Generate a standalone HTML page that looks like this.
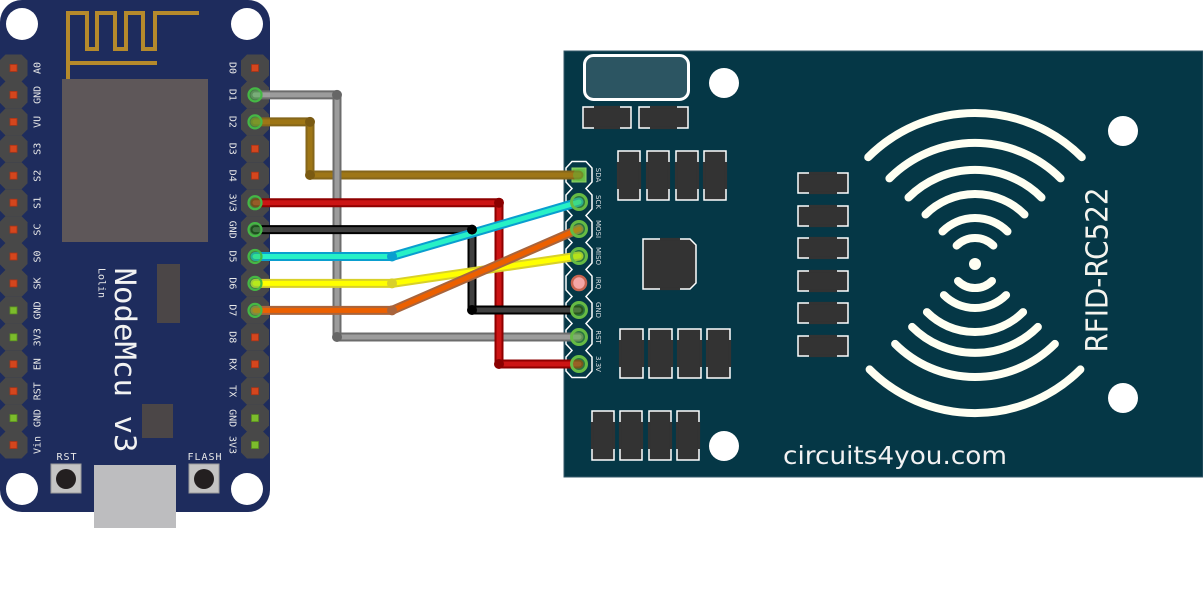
<!DOCTYPE html>
<html><head><meta charset="utf-8"><style>
html,body{margin:0;padding:0;background:#fff;}
svg{display:block;}
.lbl{font-family:"DejaVu Sans Mono","Liberation Mono",monospace;font-size:10px;fill:#e8e8e8;}
.rl{font-family:"DejaVu Sans","Liberation Sans",sans-serif;font-size:7px;fill:#d8dde0;}
</style></head><body>
<svg width="1203" height="597" viewBox="0 0 1203 597" xmlns="http://www.w3.org/2000/svg">
<defs>
<polygon id="oct" points="-8,-13.5 8,-13.5 14,-7.5 14,7.5 8,13.5 -8,13.5 -14,7.5 -14,-7.5" fill="#484848"/>
<rect id="rp" x="-3.5" y="-3.5" width="7" height="7" fill="#d4461d" stroke="#a83418" stroke-width="0.8"/>
<rect id="gp" x="-3.5" y="-3.5" width="7" height="7" fill="#7cbc2c" stroke="#5a9020" stroke-width="0.8"/>
</defs>
<rect width="1203" height="597" fill="#fff"/>

<!-- ===== NodeMCU ===== -->
<rect x="0" y="0" width="270" height="512" rx="22" fill="#1e2c5d"/>
<circle cx="22" cy="24" r="16" fill="#fff"/>
<circle cx="247" cy="24" r="16" fill="#fff"/>
<circle cx="22" cy="489" r="16" fill="#fff"/>
<circle cx="247" cy="489" r="16" fill="#fff"/>
<path d="M68,80 V13 H87 V49 H97 V13 H115 V49 H126 V13 H143 V49 H155 V13 H199" fill="none" stroke="#b58a2c" stroke-width="4"/>
<line x1="68" y1="63" x2="157" y2="63" stroke="#b58a2c" stroke-width="4"/>
<rect x="62" y="79" width="146" height="163" fill="#5e5759"/>
<rect x="157" y="264" width="23" height="59" fill="#4b4647"/>
<rect x="142" y="404" width="31" height="34" fill="#4b4647"/>
<rect x="94" y="465" width="82" height="63" fill="#bdbdbf"/>
<rect x="51" y="464" width="30" height="29" fill="#c4c4c4" stroke="#9a9a9a" stroke-width="1"/>
<circle cx="66" cy="479" r="10" fill="#231f20"/>
<rect x="189" y="464" width="30" height="29" fill="#c4c4c4" stroke="#9a9a9a" stroke-width="1"/>
<circle cx="204" cy="479" r="10" fill="#231f20"/>
<text class="lbl" x="67" y="460" text-anchor="middle" letter-spacing="1">RST</text>
<text class="lbl" x="205" y="460" text-anchor="middle" letter-spacing="1">FLASH</text>
<text x="125" y="360" transform="rotate(90 125 360)" text-anchor="middle" dominant-baseline="central" font-family="DejaVu Sans Mono, Liberation Mono, monospace" font-size="29" fill="#f2f2f2" textLength="185" lengthAdjust="spacingAndGlyphs">NodeMcu v3</text>
<text x="101" y="283" transform="rotate(90 101 283)" text-anchor="middle" dominant-baseline="central" font-family="DejaVu Sans Mono, Liberation Mono, monospace" font-size="10" fill="#e8e8e8">Lolin</text>

<!-- left header -->
<g>
<use href="#oct" x="13.5" y="68"/><use href="#oct" x="13.5" y="94.9"/><use href="#oct" x="13.5" y="121.9"/><use href="#oct" x="13.5" y="148.8"/><use href="#oct" x="13.5" y="175.7"/><use href="#oct" x="13.5" y="202.7"/><use href="#oct" x="13.5" y="229.6"/><use href="#oct" x="13.5" y="256.5"/><use href="#oct" x="13.5" y="283.4"/><use href="#oct" x="13.5" y="310.4"/><use href="#oct" x="13.5" y="337.3"/><use href="#oct" x="13.5" y="364.2"/><use href="#oct" x="13.5" y="391.2"/><use href="#oct" x="13.5" y="418.1"/><use href="#oct" x="13.5" y="445"/>
<use href="#rp" x="13.5" y="68"/><use href="#rp" x="13.5" y="94.9"/><use href="#rp" x="13.5" y="121.9"/><use href="#rp" x="13.5" y="148.8"/><use href="#rp" x="13.5" y="175.7"/><use href="#rp" x="13.5" y="202.7"/><use href="#rp" x="13.5" y="229.6"/><use href="#rp" x="13.5" y="256.5"/><use href="#rp" x="13.5" y="283.4"/><use href="#gp" x="13.5" y="310.4"/><use href="#gp" x="13.5" y="337.3"/><use href="#rp" x="13.5" y="364.2"/><use href="#rp" x="13.5" y="391.2"/><use href="#gp" x="13.5" y="418.1"/><use href="#rp" x="13.5" y="445"/>
</g>
<g class="lbl" text-anchor="middle" dominant-baseline="central">
<text x="38" y="68" transform="rotate(-90 38 68)">A0</text>
<text x="38" y="94.9" transform="rotate(-90 38 94.9)">GND</text>
<text x="38" y="121.9" transform="rotate(-90 38 121.9)">VU</text>
<text x="38" y="148.8" transform="rotate(-90 38 148.8)">S3</text>
<text x="38" y="175.7" transform="rotate(-90 38 175.7)">S2</text>
<text x="38" y="202.7" transform="rotate(-90 38 202.7)">S1</text>
<text x="38" y="229.6" transform="rotate(-90 38 229.6)">SC</text>
<text x="38" y="256.5" transform="rotate(-90 38 256.5)">S0</text>
<text x="38" y="283.4" transform="rotate(-90 38 283.4)">SK</text>
<text x="38" y="310.4" transform="rotate(-90 38 310.4)">GND</text>
<text x="38" y="337.3" transform="rotate(-90 38 337.3)">3V3</text>
<text x="38" y="364.2" transform="rotate(-90 38 364.2)">EN</text>
<text x="38" y="391.2" transform="rotate(-90 38 391.2)">RST</text>
<text x="38" y="418.1" transform="rotate(-90 38 418.1)">GND</text>
<text x="38" y="445" transform="rotate(-90 38 445)">Vin</text>
</g>

<!-- right header -->
<g>
<use href="#oct" x="255" y="68"/><use href="#oct" x="255" y="94.9"/><use href="#oct" x="255" y="121.9"/><use href="#oct" x="255" y="148.8"/><use href="#oct" x="255" y="175.7"/><use href="#oct" x="255" y="202.7"/><use href="#oct" x="255" y="229.6"/><use href="#oct" x="255" y="256.5"/><use href="#oct" x="255" y="283.4"/><use href="#oct" x="255" y="310.4"/><use href="#oct" x="255" y="337.3"/><use href="#oct" x="255" y="364.2"/><use href="#oct" x="255" y="391.2"/><use href="#oct" x="255" y="418.1"/><use href="#oct" x="255" y="445"/>
<use href="#rp" x="255" y="68"/><use href="#rp" x="255" y="148.8"/><use href="#rp" x="255" y="175.7"/><use href="#rp" x="255" y="337.3"/><use href="#rp" x="255" y="364.2"/><use href="#rp" x="255" y="391.2"/><use href="#gp" x="255" y="418.1"/><use href="#gp" x="255" y="445"/>
</g>
<g class="lbl" text-anchor="middle" dominant-baseline="central">
<text x="232" y="68" transform="rotate(90 232 68)">D0</text>
<text x="232" y="94.9" transform="rotate(90 232 94.9)">D1</text>
<text x="232" y="121.9" transform="rotate(90 232 121.9)">D2</text>
<text x="232" y="148.8" transform="rotate(90 232 148.8)">D3</text>
<text x="232" y="175.7" transform="rotate(90 232 175.7)">D4</text>
<text x="232" y="202.7" transform="rotate(90 232 202.7)">3V3</text>
<text x="232" y="229.6" transform="rotate(90 232 229.6)">GND</text>
<text x="232" y="256.5" transform="rotate(90 232 256.5)">D5</text>
<text x="232" y="283.4" transform="rotate(90 232 283.4)">D6</text>
<text x="232" y="310.4" transform="rotate(90 232 310.4)">D7</text>
<text x="232" y="337.3" transform="rotate(90 232 337.3)">D8</text>
<text x="232" y="364.2" transform="rotate(90 232 364.2)">RX</text>
<text x="232" y="391.2" transform="rotate(90 232 391.2)">TX</text>
<text x="232" y="418.1" transform="rotate(90 232 418.1)">GND</text>
<text x="232" y="445" transform="rotate(90 232 445)">3V3</text>
</g>

<!-- ===== RFID board ===== -->
<rect x="564" y="51" width="639" height="426" fill="#053746" stroke="#35596a" stroke-width="1"/>
<rect x="584.5" y="55.5" width="104" height="44" rx="9" fill="#2c5562" stroke="#ffffff" stroke-width="3"/>
<circle cx="724" cy="83" r="15" fill="#fff"/>
<circle cx="1123" cy="131" r="15" fill="#fff"/>
<circle cx="1123" cy="398" r="15" fill="#fff"/>
<circle cx="724" cy="446" r="15" fill="#fff"/>

<g fill="#333" stroke="#fff" stroke-width="1.5">
<rect x="583" y="107" width="48" height="21"/><rect x="639" y="107" width="49" height="21"/>
<rect x="618" y="151" width="22" height="49"/><rect x="647" y="151" width="22" height="49"/><rect x="676" y="151" width="22" height="49"/><rect x="704" y="151" width="22" height="49"/>
<rect x="798" y="173" width="50" height="20"/><rect x="798" y="206" width="50" height="20"/><rect x="798" y="238" width="50" height="20"/><rect x="798" y="271" width="50" height="20"/><rect x="798" y="303" width="50" height="20"/><rect x="798" y="336" width="50" height="20"/>
<rect x="620" y="329" width="23" height="49"/><rect x="649" y="329" width="23" height="49"/><rect x="678" y="329" width="23" height="49"/><rect x="707" y="329" width="23" height="49"/>
<rect x="592" y="411" width="22" height="49"/><rect x="620" y="411" width="22" height="49"/><rect x="649" y="411" width="22" height="49"/><rect x="677" y="411" width="22" height="49"/>
<polygon points="643,239 690,239 696,245 696,283 690,289 643,289"/>
</g>
<g stroke="#333" stroke-width="2.2">
<path d="M594,107H620M594,128H620M650,107H677M650,128H677"/>
<path d="M618,162V189M640,162V189M647,162V189M669,162V189M676,162V189M698,162V189M704,162V189M726,162V189"/>
<path d="M809,173H837M809,193H837M809,206H837M809,226H837M809,238H837M809,258H837M809,271H837M809,291H837M809,303H837M809,323H837M809,336H837M809,356H837"/>
<path d="M620,340V367M643,340V367M649,340V367M672,340V367M678,340V367M701,340V367M707,340V367M730,340V367"/>
<path d="M592,422V449M614,422V449M620,422V449M642,422V449M649,422V449M671,422V449M677,422V449M699,422V449"/>
<path d="M660,239H680M660,289H680"/>
</g>

<!-- arcs -->
<g fill="none" stroke="#fffff2" stroke-width="8" stroke-linecap="round">
<path d="M868.2,157.2 A151,151 0 0 1 1081.8,157.2"/>
<path d="M889.4,178.4 A121,121 0 0 1 1060.6,178.4"/>
<path d="M908.5,197.5 A94,94 0 0 1 1041.5,197.5"/>
<path d="M925.5,214.5 A70,70 0 0 1 1024.5,214.5"/>
<path d="M942.5,231.5 A46,46 0 0 1 1007.5,231.5"/>
<path d="M956.6,245.6 A26,26 0 0 1 993.4,245.6"/>
<path d="M869.6,369.4 A149,149 0 0 0 1080.4,369.4"/>
<path d="M895.1,343.9 A113,113 0 0 0 1054.9,343.9"/>
<path d="M912.1,326.9 A89,89 0 0 0 1037.9,326.9"/>
<path d="M926.9,312.1 A68,68 0 0 0 1023.1,312.1"/>
<path d="M943.9,295.1 A44,44 0 0 0 1006.1,295.1"/>
<path d="M958,281 A24,24 0 0 0 992,281"/>
</g>
<circle cx="975" cy="264" r="6" fill="#fffff2"/>
<text x="1098" y="270" transform="rotate(-90 1098 270)" text-anchor="middle" dominant-baseline="central" font-family="DejaVu Sans, Liberation Sans, sans-serif" font-size="30" fill="#f4f4ee" textLength="165" lengthAdjust="spacingAndGlyphs">RFID-RC522</text>
<text x="783" y="464" font-family="DejaVu Sans, Liberation Sans, sans-serif" font-size="25" fill="#f2f2f2" textLength="224" lengthAdjust="spacingAndGlyphs">circuits4you.com</text>

<!-- RFID header -->
<path d="M572,161.5 L586,161.5 L592,168 L592,182 L586,188.5 L592,195 L592,209 L586,215.5 L592,222 L592,236 L586,242.5 L592,249 L592,263 L586,269.5 L592,276 L592,290 L586,296.5 L592,303 L592,317 L586,323.5 L592,330 L592,344 L586,350.5 L592,357 L592,371 L586,377.5 L572,377.5 L566,371 L566,357 L572,350.5 L566,344 L566,330 L572,323.5 L566,317 L566,303 L572,296.5 L566,290 L566,276 L572,269.5 L566,263 L566,249 L572,242.5 L566,236 L566,222 L572,215.5 L566,209 L566,195 L572,188.5 L566,182 L566,168 Z" fill="none" stroke="#fff" stroke-width="1.5"/>
<rect x="572" y="168" width="14" height="14" fill="#6cbf4c" stroke="#8ed468" stroke-width="1"/>
<circle cx="579" cy="283" r="7" fill="#f4a6a6" stroke="#c86450" stroke-width="2.5"/>
<g class="rl" text-anchor="middle" dominant-baseline="central">
<text x="598" y="175" transform="rotate(90 598 175)">SDA</text>
<text x="598" y="202" transform="rotate(90 598 202)">SCK</text>
<text x="598" y="229" transform="rotate(90 598 229)">MOSI</text>
<text x="598" y="256" transform="rotate(90 598 256)">MISO</text>
<text x="598" y="283" transform="rotate(90 598 283)">IRQ</text>
<text x="598" y="310" transform="rotate(90 598 310)">GND</text>
<text x="598" y="337" transform="rotate(90 598 337)">RST</text>
<text x="598" y="364" transform="rotate(90 598 364)">3.3V</text>
</g>

<!-- ===== wires ===== -->
<g fill="none" stroke-linejoin="round" stroke-linecap="round">
<polyline points="255,121.9 310,121.9 310,175 579,175" stroke="#85661a" stroke-width="9"/>
<polyline points="255,121.9 310,121.9 310,175 579,175" stroke="#9e7616" stroke-width="5"/>
<polyline points="255,94.9 337,94.9 337,337 579,337" stroke="#6c6c6c" stroke-width="9"/>
<polyline points="255,94.9 337,94.9 337,337 579,337" stroke="#9c9c9c" stroke-width="5"/>
<polyline points="255,202.7 499,202.7 499,364 579,364" stroke="#8e0000" stroke-width="9"/>
<polyline points="255,202.7 499,202.7 499,364 579,364" stroke="#cc1414" stroke-width="5"/>
<polyline points="255,229.6 472,229.6 472,310 579,310" stroke="#000" stroke-width="9"/>
<polyline points="255,229.6 472,229.6 472,310 579,310" stroke="#404040" stroke-width="5"/>
<polyline points="255,283.4 392,283.4 579,256" stroke="#d8d02a" stroke-width="9"/>
<polyline points="255,283.4 392,283.4 579,256" stroke="#ffff00" stroke-width="5"/>
<polyline points="255,256.5 392,256.5 579,202" stroke="#0a9ecf" stroke-width="9"/>
<polyline points="255,256.5 392,256.5 579,202" stroke="#27f0c6" stroke-width="5"/>
<polyline points="255,310.4 392,310.4 579,229" stroke="#a8643c" stroke-width="9"/>
<polyline points="255,310.4 392,310.4 579,229" stroke="#ec6000" stroke-width="5"/>
</g>
<g>
<circle cx="337" cy="94.9" r="5" fill="#666"/><circle cx="337" cy="337" r="5" fill="#666"/>
<circle cx="310" cy="121.9" r="5" fill="#7a5a12"/><circle cx="310" cy="175" r="5" fill="#7a5a12"/>
<circle cx="499" cy="202.7" r="5" fill="#8b0000"/><circle cx="499" cy="364" r="5" fill="#8b0000"/>
<circle cx="472" cy="229.6" r="5" fill="#000"/><circle cx="472" cy="310" r="5" fill="#000"/>
<circle cx="392" cy="283.4" r="5" fill="#d8d02a"/>
<circle cx="392" cy="256.5" r="5" fill="#0a9ecf"/>
<circle cx="392" cy="310.4" r="5" fill="#a8643c"/>
</g>

<!-- pin end overlays NodeMCU -->
<g fill="rgba(70,200,70,0.4)" stroke="#45b845" stroke-width="2.2">
<circle cx="255" cy="94.9" r="6.5"/><circle cx="255" cy="121.9" r="6.5"/><circle cx="255" cy="202.7" r="6.5"/><circle cx="255" cy="229.6" r="6.5"/><circle cx="255" cy="256.5" r="6.5"/><circle cx="255" cy="283.4" r="6.5"/><circle cx="255" cy="310.4" r="6.5"/>
</g>
<!-- pin end overlays RFID -->
<g fill="rgba(90,190,60,0.45)" stroke="#66bb44" stroke-width="3">
<circle cx="579" cy="175" r="6" stroke="none"/>
<circle cx="579" cy="202" r="7.5"/><circle cx="579" cy="229" r="7.5"/><circle cx="579" cy="256" r="7.5"/><circle cx="579" cy="310" r="7.5"/><circle cx="579" cy="337" r="7.5"/><circle cx="579" cy="364" r="7.5"/>
</g>
</svg>
</body></html>
